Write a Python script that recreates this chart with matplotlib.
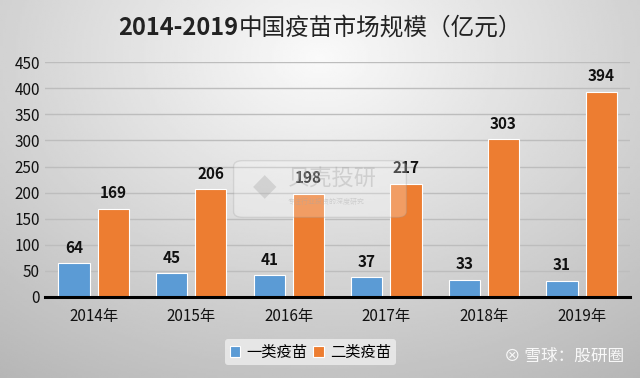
import numpy as np
import matplotlib.pyplot as plt
from matplotlib.patches import FancyBboxPatch

plt.rcParams['font.family'] = ['Noto Sans CJK SC', 'DejaVu Sans']

years = ['2014年', '2015年', '2016年', '2017年', '2018年', '2019年']
class1 = [64, 45, 41, 37, 33, 31]
class2 = [169, 206, 198, 217, 303, 394]
blue = '#5b9bd5'
orange = '#ed7d31'

fig = plt.figure(figsize=(6.4, 3.78), dpi=100)

# gray gradient background
bg = fig.add_axes([0, 0, 1, 1], zorder=-10)
yy, xx = np.mgrid[0:1:200j, 0:1:300j]
r = np.sqrt(((xx - 0.5) / 0.9) ** 2 + ((yy - 0.15) / 1.1) ** 2)
shade = 0.98 - 0.28 * r
bg.imshow(shade, cmap='gray', vmin=0, vmax=1, aspect='auto', extent=[0, 1, 0, 1])
bg.axis('off')

ax = fig.add_axes([0.07, 0.215, 0.915, 0.62])
ax.set_facecolor('none')
x = np.arange(len(years))
w = 0.32
b1 = ax.bar(x - w / 2 - 0.04, class1, w, color=blue, edgecolor='white', linewidth=0.8, label='一类疫苗', zorder=3)
b2 = ax.bar(x + w / 2 + 0.04, class2, w, color=orange, edgecolor='white', linewidth=0.8, label='二类疫苗', zorder=3)
for bars in (b1, b2):
    for rect in bars:
        h = rect.get_height()
        ax.text(rect.get_x() + rect.get_width() / 2, h + 14, str(int(h)), ha='center', va='bottom',
                fontsize=11, fontweight='bold', color='#111111')

ax.set_ylim(0, 450)
ax.set_xlim(-0.5, 5.5)
ax.set_yticks(range(0, 451, 50))
ax.set_xticks(x)
ax.set_xticklabels(years)
ax.tick_params(axis='both', length=0, labelsize=11, colors='#111111')
ax.tick_params(axis='x', pad=8)
ax.grid(axis='y', color='#bdbdbd', linewidth=1, zorder=0)
for s in ['top', 'right', 'left']:
    ax.spines[s].set_visible(False)
ax.spines['bottom'].set_color('black')
ax.spines['bottom'].set_linewidth(2.2)
ax.spines['bottom'].set_zorder(4)

leg = fig.legend(handles=[b1, b2], loc='center', bbox_to_anchor=(0.485, 0.068), ncol=2,
                 fontsize=11, frameon=True, handlelength=0.7, handleheight=0.7,
                 handletextpad=0.4, columnspacing=0.4, borderpad=0.3)
leg.get_frame().set_facecolor('#eeeeee')
leg.get_frame().set_edgecolor('none')
leg.get_frame().set_alpha(0.8)

# title: bold digits, regular chinese
fig.canvas.draw()
rend = fig.canvas.get_renderer()
t1 = fig.text(0, 0.925, '2014-2019', fontsize=17, fontweight='bold', va='center', color='#222222')
t2 = fig.text(0, 0.925, '中国疫苗市场规模（亿元）', fontsize=17, va='center', color='#222222')
w1 = t1.get_window_extent(rend).width / fig.bbox.width
w2 = t2.get_window_extent(rend).width / fig.bbox.width
start = 0.5 - (w1 + w2) / 2
t1.set_x(start)
t2.set_x(start + w1)

# watermark
box = FancyBboxPatch((0.37, 0.43), 0.26, 0.14, boxstyle='round,pad=0.005,rounding_size=0.015',
                     transform=fig.transFigure, facecolor='white', edgecolor='#999999', alpha=0.25, zorder=5)
fig.patches.append(box)
fig.text(0.395, 0.505, '◆', fontsize=22, color='#888888', alpha=0.35, va='center', ha='left', family=['DejaVu Sans'])
fig.text(0.45, 0.525, '贝壳投研', fontsize=16, color='#888888', alpha=0.4, va='center', ha='left')
fig.text(0.45, 0.465, '专注行业投资的深度研究', fontsize=5, color='#888888', alpha=0.4, va='center', ha='left')
fig.text(0.975, 0.058, '⊗ 雪球：股研圈', fontsize=12, color='white', ha='right', va='center', alpha=0.9)

plt.savefig('out.png', dpi=100)
